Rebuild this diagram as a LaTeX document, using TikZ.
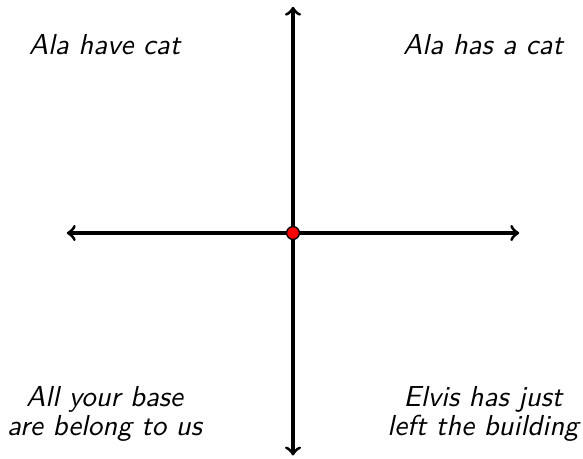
\documentclass[tikz,border=0pt]{standalone}
\begin{document}
\begin{tikzpicture}[
  axis/.style={line width=1.2pt,->},
  lbl/.style={font=\fontsize{10.9}{10.6}\selectfont\sffamily\itshape, align=center},
  dot/.style={circle, fill=red, draw=black, line width=0.5pt, inner sep=0pt, minimum size=0.17cm}
]
\useasboundingbox (-3.886,-2.984) rectangle (3.846,3.09);
\coordinate (L) at (-3,0);
\coordinate (R) at (3,0);
\coordinate (T) at (0,3.0);
\coordinate (B) at (0,-2.95);
\coordinate (O) at (0,0);
\draw[axis] (O) -- (L);
\draw[axis] (O) -- (R);
\draw[axis] (O) -- (T);
\draw[axis] (O) -- (B);
\node[dot] (c) at (O) {};
\node[lbl] (tl) at (-2.5,2.5) {Ala have cat};
\node[lbl] (tr) at (2.52,2.5) {Ala has a cat};
\node[lbl] (bl) at (-2.5,-2.4) {All your base\\are belong to us};
\node[lbl] (br) at (2.52,-2.4) {Elvis has just\\left the building};
\end{tikzpicture}
\end{document}
